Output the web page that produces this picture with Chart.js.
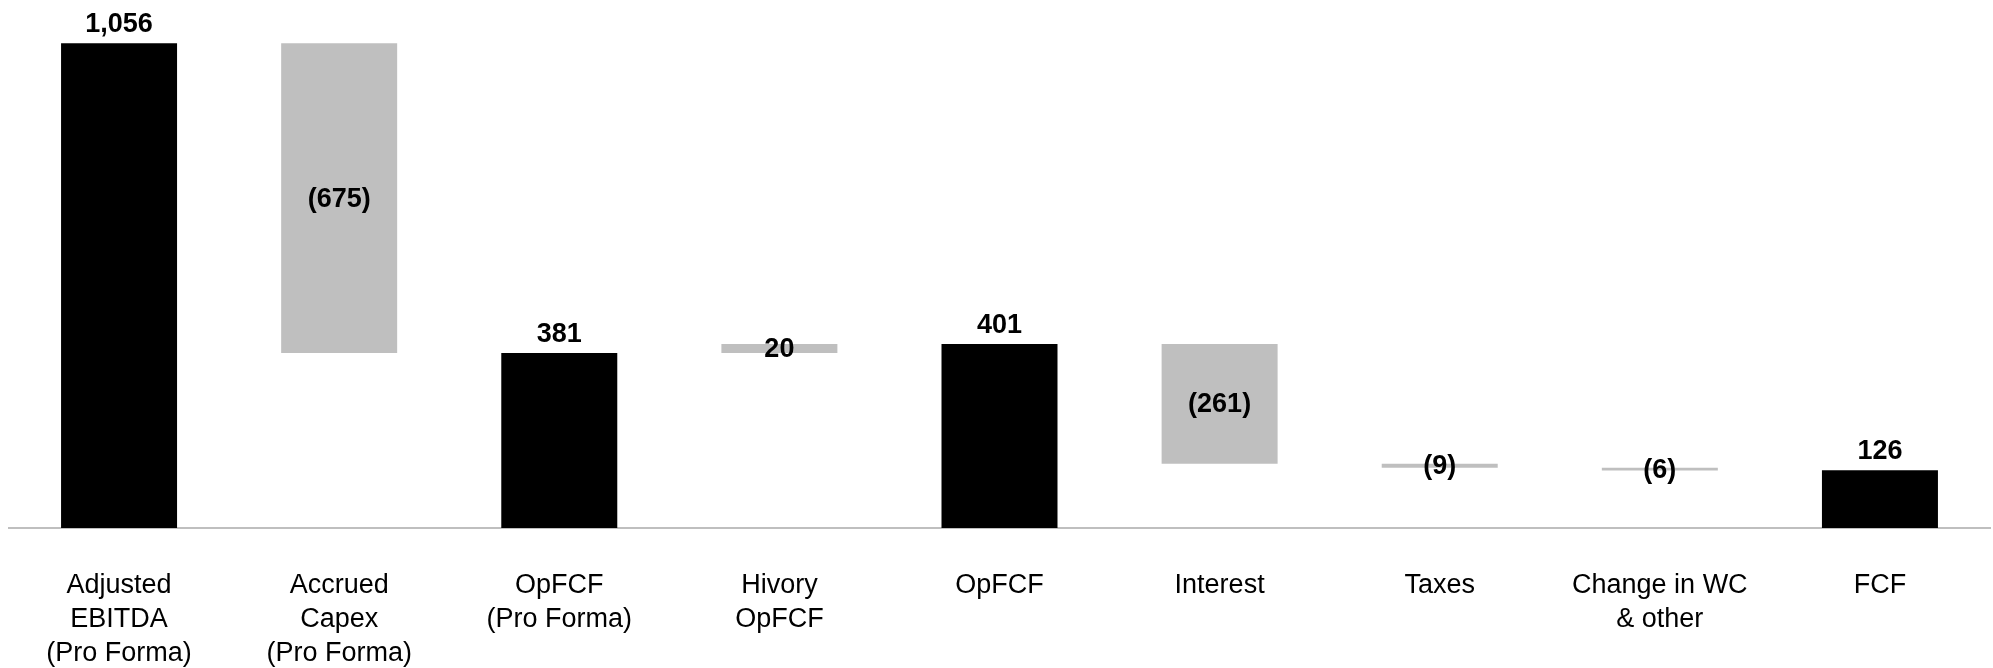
<!DOCTYPE html>
<html>
<head>
<meta charset="utf-8">
<script src="https://cdn.jsdelivr.net/npm/chart.js@4.4.1/dist/chart.umd.min.js"></script>
<style>
  html, body { margin: 0; padding: 0; background: #ffffff; }
  #wrap { width: 1993px; height: 668px; }
</style>
</head>
<body>
<div id="wrap"><canvas id="bridge" width="1993" height="668"></canvas></div>
<script>
// Free cash flow bridge (USD m)
const categories = [
  ['Adjusted', 'EBITDA', '(Pro Forma)'],
  ['Accrued', 'Capex', '(Pro Forma)'],
  ['OpFCF', '(Pro Forma)'],
  ['Hivory', 'OpFCF'],
  ['OpFCF'],
  ['Interest'],
  ['Taxes'],
  ['Change in WC', '& other'],
  ['FCF']
];
const amounts = [1056, -675, 381, 20, 401, -261, -9, -6, 126];
const isTotal = [true, false, true, false, true, false, false, false, true];

const TOTAL_COLOR = '#000000';
const STEP_COLOR = '#BFBFBF';

// Build floating [low, high] ranges from the running total
const ranges = [];
let running = 0;
amounts.forEach((v, i) => {
  if (isTotal[i]) {
    running = v;
    ranges.push([0, v]);
  } else {
    const start = running;
    running = running + v;
    ranges.push([Math.min(start, running), Math.max(start, running)]);
  }
});

function formatAmount(v) {
  const s = Math.abs(v).toLocaleString('en-US');
  return v < 0 ? '(' + s + ')' : s;
}

// Value labels: above the total bars, centred on the step bars
const valueLabels = {
  id: 'valueLabels',
  afterDatasetsDraw(chart) {
    const ctx = chart.ctx;
    const meta = chart.getDatasetMeta(0);
    ctx.save();
    ctx.font = 'bold 27px "Liberation Sans", Arial, sans-serif';
    ctx.fillStyle = '#000000';
    ctx.textAlign = 'center';
    meta.data.forEach((bar, i) => {
      const text = formatAmount(amounts[i]);
      if (isTotal[i]) {
        ctx.textBaseline = 'alphabetic';
        ctx.fillText(text, bar.x, bar.y - 11);
      } else {
        ctx.textBaseline = 'middle';
        ctx.fillText(text, bar.x, (bar.y + bar.base) / 2 + 1);
      }
    });
    ctx.restore();
  }
};

new Chart(document.getElementById('bridge'), {
  type: 'bar',
  data: {
    labels: categories,
    datasets: [{
      data: ranges,
      backgroundColor: isTotal.map(t => t ? TOTAL_COLOR : STEP_COLOR),
      borderWidth: 0,
      categoryPercentage: 1,
      barPercentage: 0.527
    }]
  },
  options: {
    responsive: false,
    devicePixelRatio: 1,
    animation: false,
    layout: { padding: { top: 23, left: 9, right: 3, bottom: 0 } },
    plugins: {
      legend: { display: false },
      tooltip: { enabled: false }
    },
    scales: {
      x: {
        grid: { display: false, drawTicks: false },
        border: { display: true, color: '#BFBFBF', width: 2 },
        ticks: {
          color: '#000000',
          padding: 41,
          maxRotation: 0,
          autoSkip: false,
          font: { family: '"Liberation Sans", Arial, sans-serif', size: 27, lineHeight: 34 / 27 }
        },
        afterFit(scale) { scale.height = 140; }
      },
      y: {
        display: false,
        min: 0,
        max: 1100
      }
    }
  },
  plugins: [valueLabels]
});
</script>
</body>
</html>
